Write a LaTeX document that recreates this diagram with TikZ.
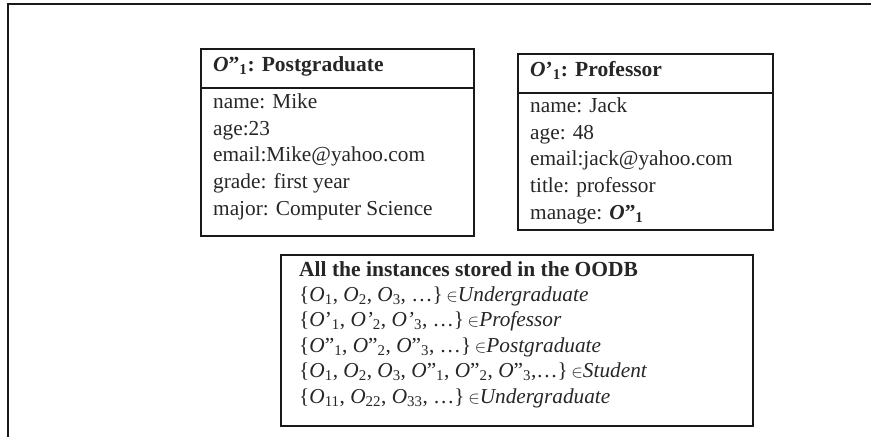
\documentclass[tikz,border=0pt]{standalone}
\usepackage{fontspec}
\setmainfont{Liberation Serif}
\newcommand{\sbx}[1]{\textsubscript{#1}}
\newcommand{\elt}{\,{\fontsize{16}{16}\selectfont$\in$}}
\begin{document}
\begin{tikzpicture}[x=1pt,y=-1pt,
  boxline/.style={draw=black!90, line width=1.8pt},
  cell/.style={boxline, rectangle, inner sep=0pt, anchor=north west},
  txt/.style={anchor=base west, inner sep=0pt, font=\fontsize{21.3}{24}\selectfont, text=black!85},
  hdr/.style={txt, font=\fontsize{21.5}{24}\selectfont\bfseries}]
\useasboundingbox (0,0) rectangle (871,437);
\coordinate (fTR) at (871,4);
\coordinate (fTL) at (8,4);
\coordinate (fBL) at (8,437);
\draw[boxline] (fTR) -- (fTL) -- (fBL);

% Postgraduate object
\node[cell, minimum width=273pt, minimum height=39pt] (pgH) at (200,48) {};
\node[cell, minimum width=273pt, minimum height=148pt] (pgB) at (200,87) {};
\node[hdr] (pg0) at (213,71) {\textit{O}”\sbx{1}: Postgraduate};
\node[txt] (pg1) at (213,108) {name: Mike};
\node[txt] (pg2) at (213,135) {age:23};
\node[txt] (pg3) at (213,161.5) {email:Mike@yahoo.com};
\node[txt] (pg4) at (213,188) {grade: first year};
\node[txt] (pg5) at (213,215) {major: Computer Science};

% Professor object
\node[cell, minimum width=255pt, minimum height=39pt] (prH) at (517,53) {};
\node[cell, minimum width=255pt, minimum height=137pt] (prB) at (517,92) {};
\node[hdr] (pr0) at (530,76) {\textit{O}’\sbx{1}: Professor};
\node[txt] (pr1) at (530,112) {name: Jack};
\node[txt] (pr2) at (530,139) {age: 48};
\node[txt] (pr3) at (530,165.5) {email:jack@yahoo.com};
\node[txt] (pr4) at (530,192) {title: professor};
\node[txt] (pr5) at (530,219) {manage: \textbf{\textit{O}”\sbx{1}}};

% OODB instances
\node[cell, minimum width=472pt, minimum height=171pt] (db) at (280,254) {};
\node[hdr] (db0) at (299,276) {All the instances stored in the OODB};
\node[txt] (db1) at (299,301) {\{\textit{O}\sbx{1}, \textit{O}\sbx{2}, \textit{O}\sbx{3}, …\}\elt\textit{Undergraduate}};
\node[txt] (db2) at (299,326.5) {\{\textit{O}’\sbx{1}, \textit{O’}\sbx{2}, \textit{O’}\sbx{3}, …\}\elt\textit{Professor}};
\node[txt] (db3) at (299,352) {\{\textit{O}”\sbx{1}, \textit{O}”\sbx{2}, \textit{O}”\sbx{3}, …\}\elt\textit{Postgraduate}};
\node[txt] (db4) at (299,377.5) {\{\textit{O}\sbx{1}, \textit{O}\sbx{2}, \textit{O}\sbx{3}, \textit{O}”\sbx{1}, \textit{O}”\sbx{2}, \textit{O}”\sbx{3},…\}\elt\textit{Student}};
\node[txt] (db5) at (299,403) {\{\textit{O}\sbx{11}, \textit{O}\sbx{22}, \textit{O}\sbx{33}, …\}\elt\textit{Undergraduate}};
\end{tikzpicture}
\end{document}
